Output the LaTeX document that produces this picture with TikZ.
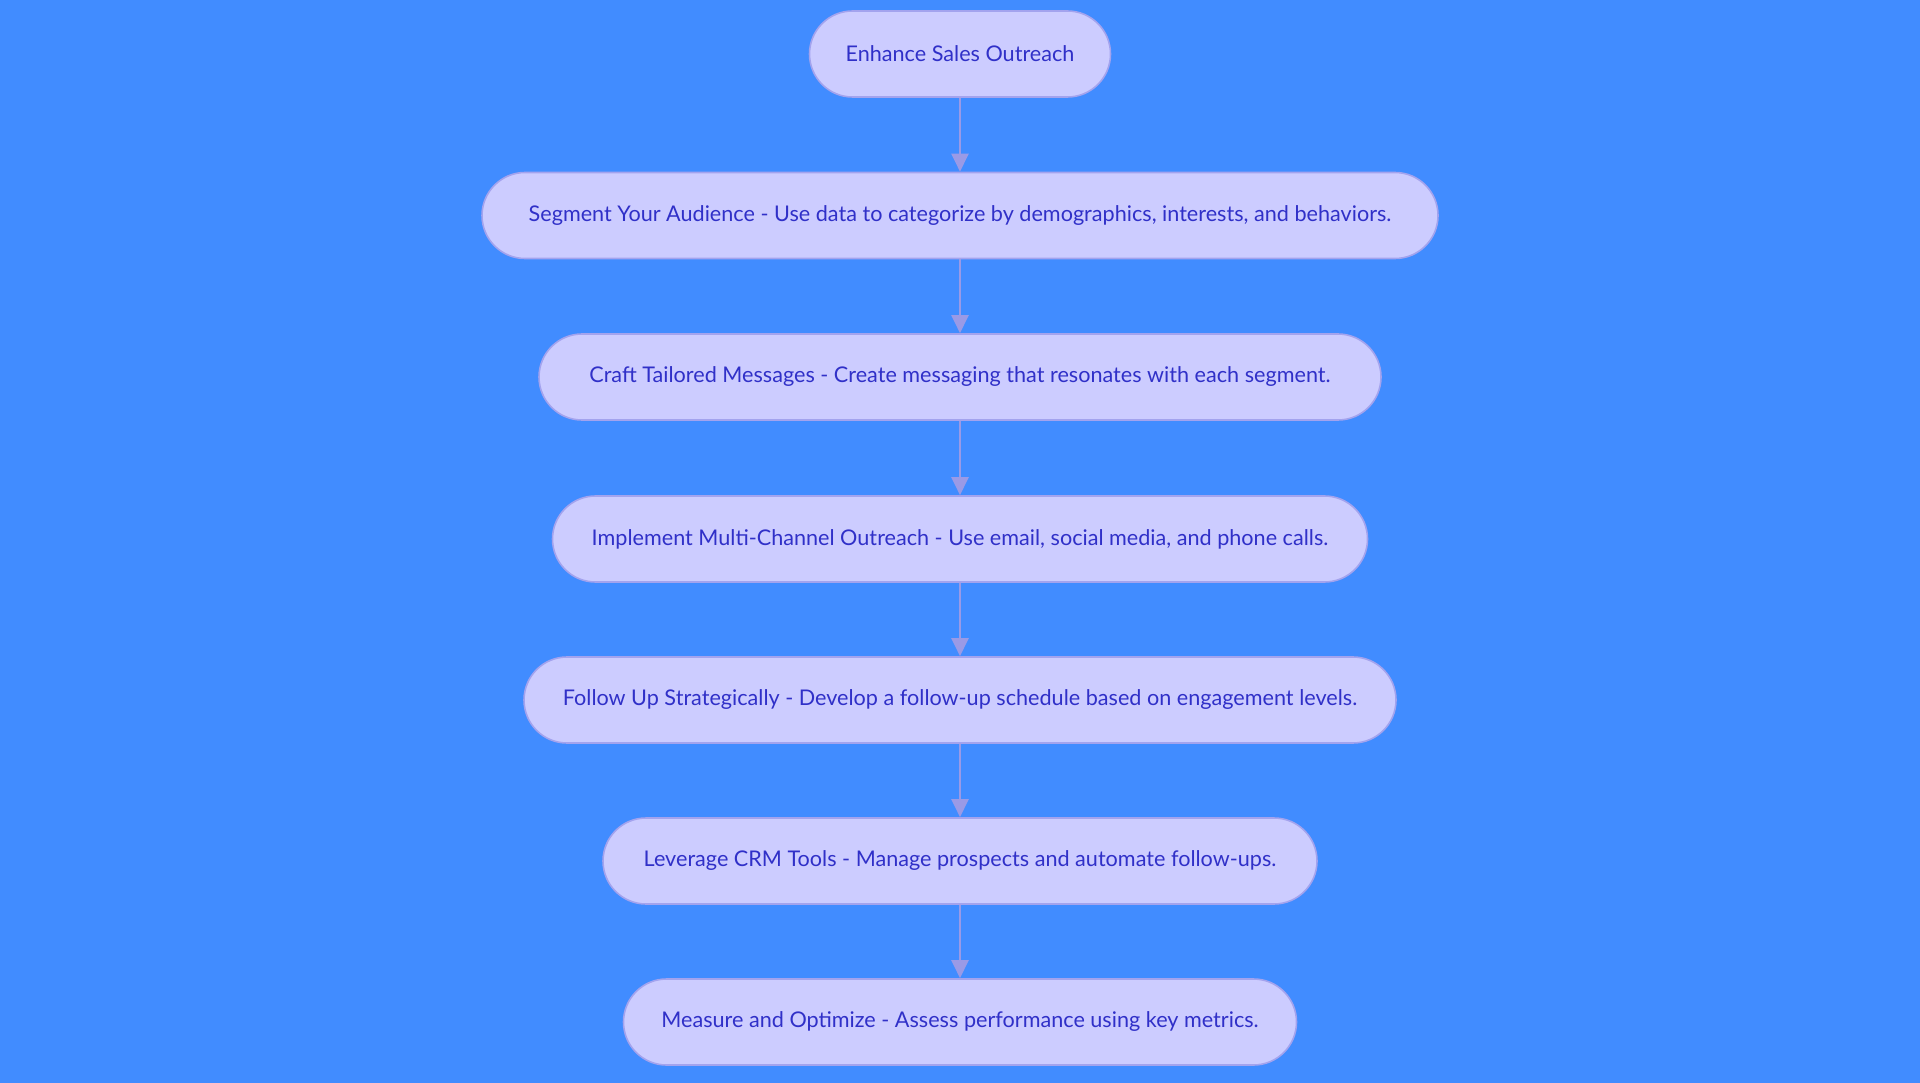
\documentclass[tikz,border=0pt]{standalone}
\usepackage{fontspec}
\setmainfont{Lato}
\usetikzlibrary{arrows.meta}
\definecolor{bgblue}{HTML}{418CFF}
\definecolor{stepfill}{HTML}{CCCCFF}
\definecolor{stepline}{HTML}{A3A3EE}
\definecolor{steptext}{HTML}{3030C8}
\definecolor{arrowcol}{HTML}{9A9AE6}
\tikzset{
    stepbox/.style={draw=stepline, line width=0.9pt, fill=stepfill, rounded corners=0.86cm,
        minimum height=1.72cm, inner xsep=0.55cm, text=steptext, font=\fontsize{12.3}{14}\selectfont},
    flow/.style={draw=arrowcol, line width=1.2pt, -{Triangle[length=0.36cm,width=0.34cm]}}
}
\begin{document}
\begin{tikzpicture}
    \fill[bgblue] (0,0) rectangle (38.4,-21.66);
    \useasboundingbox (0,0) rectangle (38.4,-21.66);
    \node[stepbox, minimum width=6.02cm] (s0) at (19.2,-1.08) {Enhance Sales Outreach};
    \node[stepbox, minimum width=19.12cm] (s1) at (19.2,-4.31) {Segment Your Audience - Use data to categorize by demographics, interests, and behaviors.};
    \node[stepbox, minimum width=16.84cm] (s2) at (19.2,-7.54) {Craft Tailored Messages - Create messaging that resonates with each segment.};
    \node[stepbox, minimum width=16.30cm] (s3) at (19.2,-10.78) {Implement Multi-Channel Outreach - Use email, social media, and phone calls.};
    \node[stepbox, minimum width=17.44cm] (s4) at (19.2,-14.00) {Follow Up Strategically - Develop a follow-up schedule based on engagement levels.};
    \node[stepbox, minimum width=14.28cm] (s5) at (19.2,-17.22) {Leverage CRM Tools - Manage prospects and automate follow-ups.};
    \node[stepbox, minimum width=13.46cm] (s6) at (19.2,-20.44) {Measure and Optimize - Assess performance using key metrics.};
    \foreach \a/\b in {s0/s1,s1/s2,s2/s3,s3/s4,s4/s5,s5/s6}
    {
        \draw[flow] (\a) -- (\b);
    }
\end{tikzpicture}
\end{document}
